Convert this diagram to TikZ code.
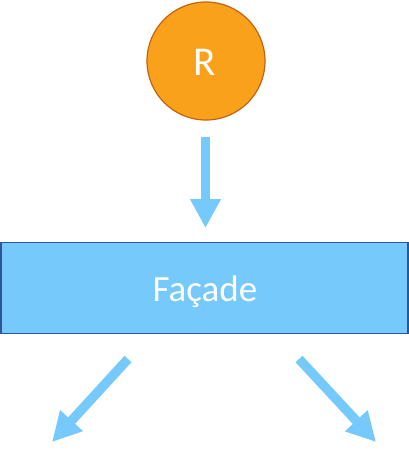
\documentclass[tikz,border=0pt]{standalone}
\usepackage{fontspec}
\setmainfont{Carlito}
\usetikzlibrary{arrows.meta}
\definecolor{orangefill}{HTML}{F9A11B}
\definecolor{orangeline}{HTML}{C5620F}
\definecolor{skyfill}{HTML}{75CAFB}
\definecolor{navyline}{HTML}{2F5597}
\tikzset{
  fatarrow/.style={draw=skyfill, line width=9.5pt,
    -{Triangle[width=29pt,length=29pt]}},
  whitelabel/.style={text=white, anchor=base, inner sep=0pt},
}
\begin{document}
\begin{tikzpicture}[x=1pt,y=-1pt]
\useasboundingbox (0,0) rectangle (408,472);
\node[circle, draw=orangeline, line width=1.2pt, fill=orangefill,
  minimum size=118pt, inner sep=0pt] (r) at (206,61) {};
\node[whitelabel, font=\fontsize{41}{41}\selectfont] (rlabel)
  at (204.5,75) {R};
\node[rectangle, draw=navyline, line width=1.5pt, fill=skyfill,
  minimum width=407pt, minimum height=91pt, inner sep=0pt] (facade) at (204.25,288) {};
\node[whitelabel, font=\fontsize{37}{37}\selectfont] (facadelabel)
  at (205,301) {Façade};
\coordinate (a1s) at (205.5,137);
\coordinate (a1e) at (205.5,228);
\coordinate (a2s) at (128,359);
\coordinate (a2e) at (52,442);
\coordinate (a3s) at (299,359);
\coordinate (a3e) at (376,442);
\draw[fatarrow] (a1s) -- (a1e);
\draw[fatarrow] (a2s) -- (a2e);
\draw[fatarrow] (a3s) -- (a3e);
\end{tikzpicture}
\end{document}
